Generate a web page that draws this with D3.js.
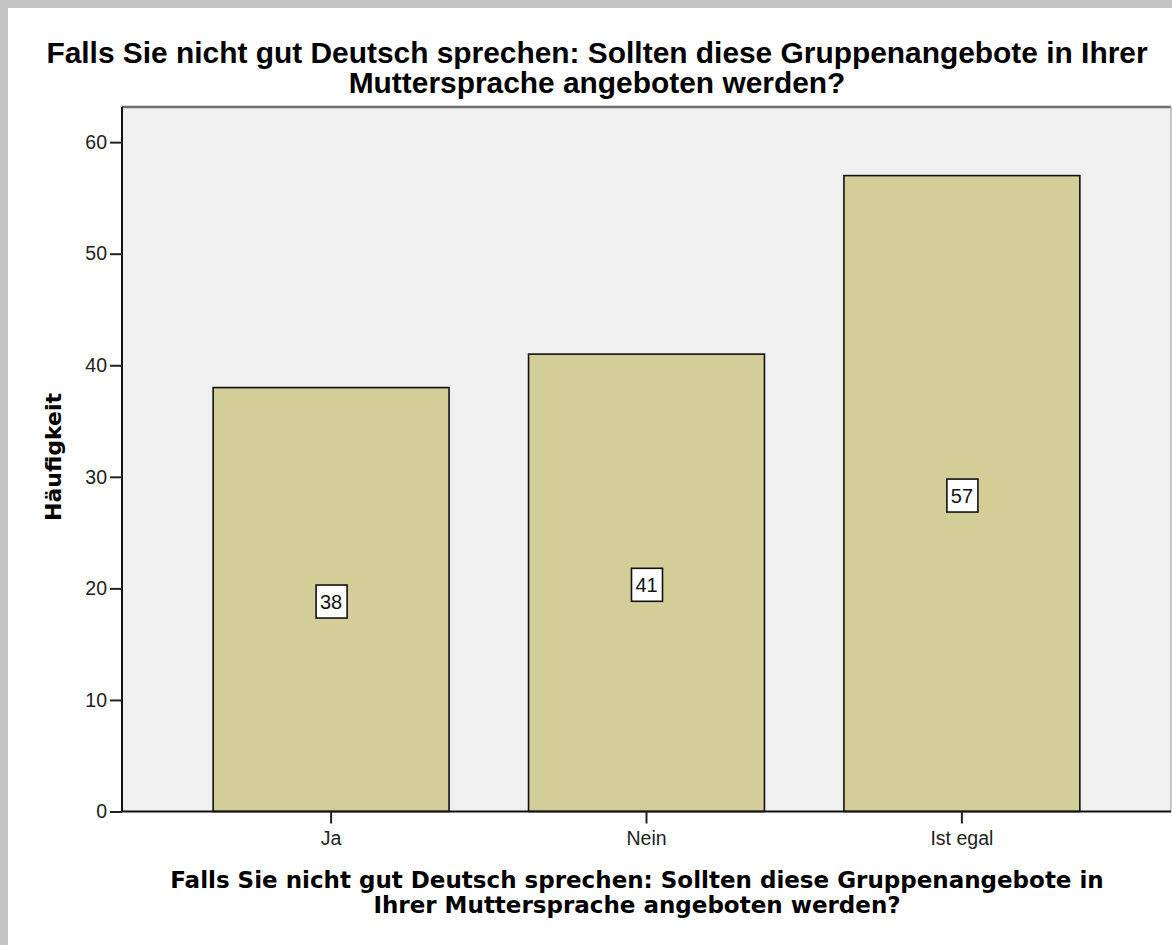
<!DOCTYPE html>
<html><head><meta charset="utf-8">
<script src="https://cdn.jsdelivr.net/npm/d3@7"></script>
<style>body{margin:0;background:#fff}svg{display:block}</style>
</head><body>
<svg id="chart" width="1172" height="945"></svg>
<script>
const categories = ["Ja", "Nein", "Ist egal"];
const counts = [38, 41, 57];
const yTicks = [0, 10, 20, 30, 40, 50, 60];
const titleLines = ["Falls Sie nicht gut Deutsch sprechen: Sollten diese Gruppenangebote in Ihrer", "Muttersprache angeboten werden?"];
const xTitleLines = ["Falls Sie nicht gut Deutsch sprechen: Sollten diese Gruppenangebote in", "Ihrer Muttersprache angeboten werden?"];
const yTitle = "Häufigkeit";

const svg = d3.select("#chart");
const W = 1172, H = 945;
svg.append("rect").attr("width", W).attr("height", H).attr("fill", "#c3c3c3");
svg.append("rect").attr("x", 8).attr("y", 8).attr("width", W - 8).attr("height", H - 8).attr("fill", "#fff");

const plot = {left: 122, right: 1171, top: 107, bottom: 811.5};
const y = d3.scaleLinear().domain([0, 63.15]).range([plot.bottom, plot.top]);
const x = d3.scaleBand().domain(categories).range([plot.left, plot.right]).paddingInner(0.252).paddingOuter(0.289);

svg.append("rect").attr("x", plot.left).attr("y", plot.top)
  .attr("width", plot.right - plot.left).attr("height", plot.bottom - plot.top).attr("fill", "#f0f0f0");
svg.append("line").attr("x1", plot.left).attr("x2", plot.right).attr("y1", plot.top).attr("y2", plot.top)
  .attr("stroke", "#6e6e6e").attr("stroke-width", 2.5);
svg.append("line").attr("x1", plot.right).attr("x2", plot.right).attr("y1", plot.top).attr("y2", plot.bottom)
  .attr("stroke", "#b5b5b5").attr("stroke-width", 1.5);

const data = categories.map((c, i) => ({c, v: counts[i]}));
svg.append("g").selectAll("rect").data(data).join("rect")
  .attr("x", d => x(d.c)).attr("width", x.bandwidth())
  .attr("y", d => y(d.v)).attr("height", d => y(0) - y(d.v))
  .attr("fill", "#d3ce97").attr("stroke", "#111").attr("stroke-width", 1.6);

const yAxis = svg.append("g").attr("transform", `translate(${plot.left},0)`)
  .call(d3.axisLeft(y).tickValues(yTicks).tickSize(12).tickPadding(3).tickSizeOuter(0));
const xAxis = svg.append("g").attr("transform", `translate(0,${plot.bottom})`)
  .call(d3.axisBottom(x).tickSize(12).tickPadding(8).tickSizeOuter(0));
[yAxis, xAxis].forEach(g => {
  g.select(".domain").attr("stroke", "#111").attr("stroke-width", 2);
  g.selectAll(".tick line").attr("stroke", "#222").attr("stroke-width", 2);
  g.selectAll(".tick text").attr("font-family", "Liberation Sans, Arial, sans-serif")
    .attr("font-size", 19.5).attr("fill", "#222");
});
yAxis.select(".domain").attr("d", `M0,${plot.bottom}V${plot.top}`);
xAxis.select(".domain").attr("d", `M${plot.left},0H${plot.right}`);

const lab = svg.append("g").selectAll("g").data(data).join("g")
  .attr("transform", d => `translate(${x(d.c) + x.bandwidth() / 2},${y(d.v / 2) + 2})`);
lab.append("rect").attr("x", -15).attr("y", -16.5).attr("width", 31).attr("height", 33)
  .attr("fill", "#fff").attr("stroke", "#111").attr("stroke-width", 1.6);
lab.append("text").text(d => d.v).attr("text-anchor", "middle").attr("dy", "0.36em")
  .attr("font-family", "Liberation Sans, Arial, sans-serif").attr("font-size", 20).attr("fill", "#111");

svg.append("g").selectAll("text").data(titleLines).join("text")
  .attr("x", 597).attr("y", (d, i) => 63 + i * 30).attr("text-anchor", "middle")
  .attr("font-family", "Liberation Sans, Arial, sans-serif").attr("font-weight", "bold")
  .attr("font-size", 29.9).attr("fill", "#000").text(d => d);
svg.append("g").selectAll("text").data(xTitleLines).join("text")
  .attr("x", 637).attr("y", (d, i) => 888 + i * 25).attr("text-anchor", "middle")
  .attr("font-family", "DejaVu Sans, sans-serif").attr("font-weight", "bold")
  .attr("font-size", 23).attr("fill", "#000").text(d => d);
svg.append("text").attr("transform", "translate(61,457) rotate(-90)").attr("text-anchor", "middle")
  .attr("font-family", "DejaVu Sans, sans-serif").attr("font-weight", "bold")
  .attr("font-size", 22).attr("fill", "#000").text(yTitle);
</script>
</body></html>
